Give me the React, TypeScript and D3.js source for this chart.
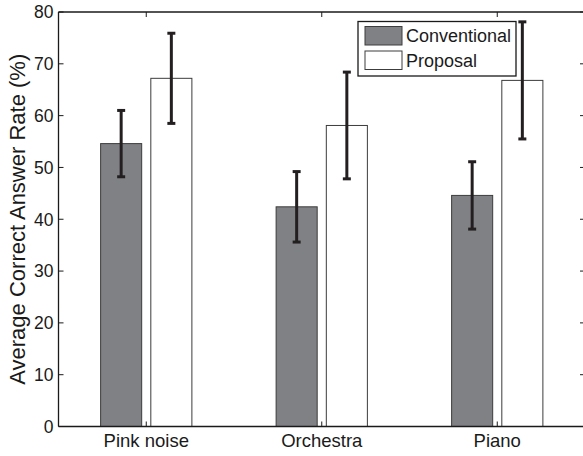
import React, { useEffect, useRef } from 'react';
import * as d3 from 'd3';

const categories = ['Pink noise', 'Orchestra', 'Piano'];
const conventional = [54.6, 42.4, 44.6];
const conventionalErr = [6.4, 6.8, 6.5];
const proposal = [67.2, 58.1, 66.8];
const proposalErr = [8.7, 10.3, 11.3];
const yTicks = [0, 10, 20, 30, 40, 50, 60, 70, 80];
const seriesNames = ['Conventional', 'Proposal'];

const W = 583;
const H = 456;
const FONT = 'Liberation Sans, Arial, Helvetica, sans-serif';

export default function App() {
  const node = useRef<SVGSVGElement>(null);

  useEffect(() => {
    const svg = d3.select(node.current);
    svg.selectAll('*').remove();

    // axes box: left at 58.5, right axis falls just past the picture edge
    const x = d3.scaleLinear().domain([0.5, 3.5]).range([58.5, 585]);
    const y = d3.scaleLinear().domain([0, 80]).range([426.5, 12]);

    const offset = 0.143;
    const barW = x(0.734) - x(0.5);

    const series = [
      { values: conventional, err: conventionalErr, fill: '#808184', stroke: '#3c3c3c', dx: -offset },
      { values: proposal, err: proposalErr, fill: '#ffffff', stroke: '#3c3c3c', dx: offset },
    ];

    series.forEach((s) => {
      const g = svg.append('g');
      g.selectAll('rect')
        .data(s.values)
        .enter()
        .append('rect')
        .attr('x', (d, i) => x(i + 1 + s.dx) - barW / 2)
        .attr('y', (d) => y(d))
        .attr('width', barW)
        .attr('height', (d) => y(0) - y(d))
        .attr('fill', s.fill)
        .attr('stroke', s.stroke)
        .attr('stroke-width', 1);
    });

    // error bars
    series.forEach((s) => {
      const g = svg.append('g').attr('stroke', '#231f20').attr('stroke-width', 3);
      s.values.forEach((d, i) => {
        const cx = x(i + 1 + s.dx);
        const lo = y(d - s.err[i]);
        const hi = y(d + s.err[i]);
        g.append('line').attr('x1', cx).attr('x2', cx).attr('y1', lo).attr('y2', hi);
        g.append('line').attr('x1', cx - 4).attr('x2', cx + 4).attr('y1', lo).attr('y2', lo);
        g.append('line').attr('x1', cx - 4).attr('x2', cx + 4).attr('y1', hi).attr('y2', hi);
      });
    });

    // box
    const axis = svg.append('g').attr('stroke', '#1a1a1a').attr('stroke-width', 1.3).attr('fill', 'none');
    axis.append('line').attr('x1', x(0.5)).attr('x2', x(3.5)).attr('y1', y(0)).attr('y2', y(0));
    axis.append('line').attr('x1', x(0.5)).attr('x2', x(3.5)).attr('y1', y(80)).attr('y2', y(80));
    axis.append('line').attr('x1', x(0.5)).attr('x2', x(0.5)).attr('y1', y(0)).attr('y2', y(80));
    axis.append('line').attr('x1', x(3.5)).attr('x2', x(3.5)).attr('y1', y(0)).attr('y2', y(80));

    const ticks = svg.append('g').attr('stroke', '#1a1a1a').attr('stroke-width', 1);
    yTicks.forEach((t) => {
      ticks.append('line').attr('x1', x(0.5)).attr('x2', x(0.5) + 5).attr('y1', y(t)).attr('y2', y(t));
      ticks.append('line').attr('x1', x(3.5) - 5).attr('x2', x(3.5)).attr('y1', y(t)).attr('y2', y(t));
    });
    categories.forEach((c, i) => {
      ticks.append('line').attr('x1', x(i + 1)).attr('x2', x(i + 1)).attr('y1', y(0)).attr('y2', y(0) - 5);
      ticks.append('line').attr('x1', x(i + 1)).attr('x2', x(i + 1)).attr('y1', y(80)).attr('y2', y(80) + 5);
    });

    svg.append('g')
      .selectAll('text')
      .data(yTicks)
      .enter()
      .append('text')
      .attr('x', 53.5)
      .attr('y', (d) => y(d))
      .attr('dy', '0.36em')
      .attr('text-anchor', 'end')
      .attr('font-family', FONT)
      .attr('font-size', 17.5)
      .attr('fill', '#1a1a1a')
      .text((d) => d);

    svg.append('g')
      .selectAll('text')
      .data(categories)
      .enter()
      .append('text')
      .attr('x', (d, i) => x(i + 1))
      .attr('y', 447)
      .attr('text-anchor', 'middle')
      .attr('font-family', FONT)
      .attr('font-size', 18.5)
      .attr('fill', '#1a1a1a')
      .text((d) => d);

    svg.append('text')
      .attr('transform', 'translate(25,' + y(40) + ') rotate(-90)')
      .attr('text-anchor', 'middle')
      .attr('font-family', FONT)
      .attr('font-size', 22)
      .attr('fill', '#1a1a1a')
      .text('Average Correct Answer Rate (%)');

    // legend
    const lg = svg.append('g');
    lg.append('rect')
      .attr('x', 358).attr('y', 21.5).attr('width', 158).attr('height', 54.5)
      .attr('fill', '#fff').attr('stroke', '#1a1a1a').attr('stroke-width', 1.3);
    seriesNames.forEach((name, i) => {
      lg.append('rect')
        .attr('x', 365).attr('y', 26.5 + i * 24.5).attr('width', 37).attr('height', 18.5)
        .attr('fill', series[i].fill).attr('stroke', '#3c3c3c').attr('stroke-width', 1);
      lg.append('text')
        .attr('x', 406).attr('y', 36 + i * 24.5).attr('dy', '0.36em')
        .attr('font-family', FONT).attr('font-size', 18).attr('fill', '#1a1a1a')
        .text(name);
    });
  }, []);

  return (
    <svg ref={node} width={W} height={H}
      style={{ position: 'absolute', left: 0, top: 0, background: '#fff' }} />
  );
}
